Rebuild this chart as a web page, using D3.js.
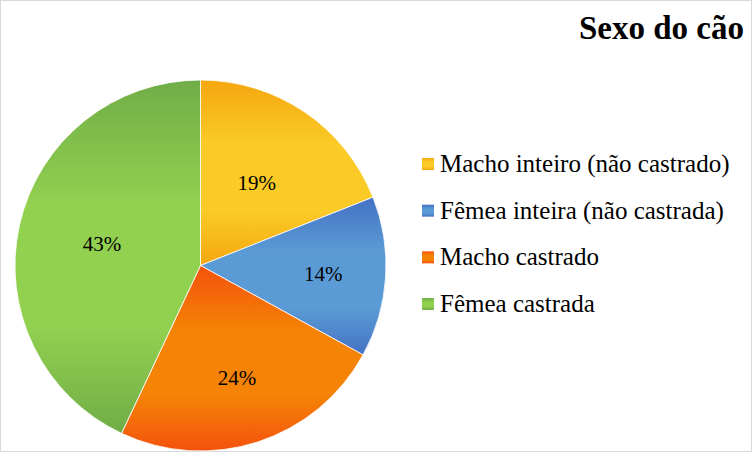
<!DOCTYPE html>
<html><head><meta charset="utf-8">
<script src="https://cdn.jsdelivr.net/npm/d3@7"></script>
</head><body style="margin:0">
<script>
const title = "Sexo do cão";
const categories = ["Macho inteiro (não castrado)", "Fêmea inteira (não castrada)", "Macho castrado", "Fêmea castrada"];
const values = [19, 14, 24, 43];
const labelRadii = [100, 123, 118, 101];
const colorsEdge = ["#F5A70F", "#4472C4", "#F4520C", "#70AD47"];
const colorsMid = ["#FACB27", "#5B9BD5", "#F58306", "#92D050"];
const FONT = "Liberation Serif";

const W = 752, H = 452;
const svg = d3.select("body").append("svg").attr("width", W).attr("height", H)
  .style("display", "block").attr("font-family", FONT);
svg.append("rect").attr("x", 0.5).attr("y", 0.5).attr("width", W - 1).attr("height", H - 1)
  .attr("fill", "#fff").attr("stroke", "#D9D9D9");

const defs = svg.append("defs");
categories.forEach((c, i) => {
  const g = defs.append("linearGradient").attr("id", "g" + i)
    .attr("x1", 0).attr("y1", 0).attr("x2", 0).attr("y2", 1);
  g.append("stop").attr("offset", "0%").attr("stop-color", colorsEdge[i]);
  g.append("stop").attr("offset", "35%").attr("stop-color", colorsMid[i]);
  g.append("stop").attr("offset", "70%").attr("stop-color", colorsMid[i]);
  g.append("stop").attr("offset", "100%").attr("stop-color", colorsEdge[i]);
});

const cx = 200.5, cy = 265.5, R = 185.5;
const pie = d3.pie().sort(null).value(d => d);
const arcs = pie(values);
const arc = d3.arc().innerRadius(0).outerRadius(R);
const gp = svg.append("g").attr("transform", `translate(${cx},${cy})`);
gp.selectAll("path").data(arcs).join("path")
  .attr("d", arc).attr("fill", (d, i) => `url(#g${i})`)
  .attr("stroke", "#fff").attr("stroke-width", 0.8);

const total = d3.sum(values);
gp.selectAll("text").data(arcs).join("text")
  .attr("transform", (d, i) => {
    const a = d3.arc().innerRadius(labelRadii[i]).outerRadius(labelRadii[i]);
    return `translate(${a.centroid(d)})`;
  })
  .attr("text-anchor", "middle").attr("dy", "0.35em")
  .attr("font-family", FONT).attr("font-size", 21)
  .attr("fill", "#000")
  .text(d => Math.round(d.value / total * 100) + "%");

svg.append("text").attr("x", 744).attr("y", 39).attr("text-anchor", "end")
  .attr("font-family", FONT).attr("font-weight", "bold")
  .attr("font-size", 33).attr("fill", "#000").text(title);

const ly = d3.scalePoint().domain(categories).range([172, 312]);
const lg = svg.append("g");
const items = lg.selectAll("g").data(categories).join("g")
  .attr("transform", d => `translate(422,${ly(d)})`);
items.append("rect").attr("x", 0).attr("y", -14).attr("width", 12).attr("height", 12)
  .attr("fill", (d, i) => `url(#g${i})`);
items.append("text").attr("x", 18).attr("y", 0)
  .attr("font-family", FONT).attr("font-size", 25)
  .attr("fill", "#000").text(d => d);
</script>
</body></html>
